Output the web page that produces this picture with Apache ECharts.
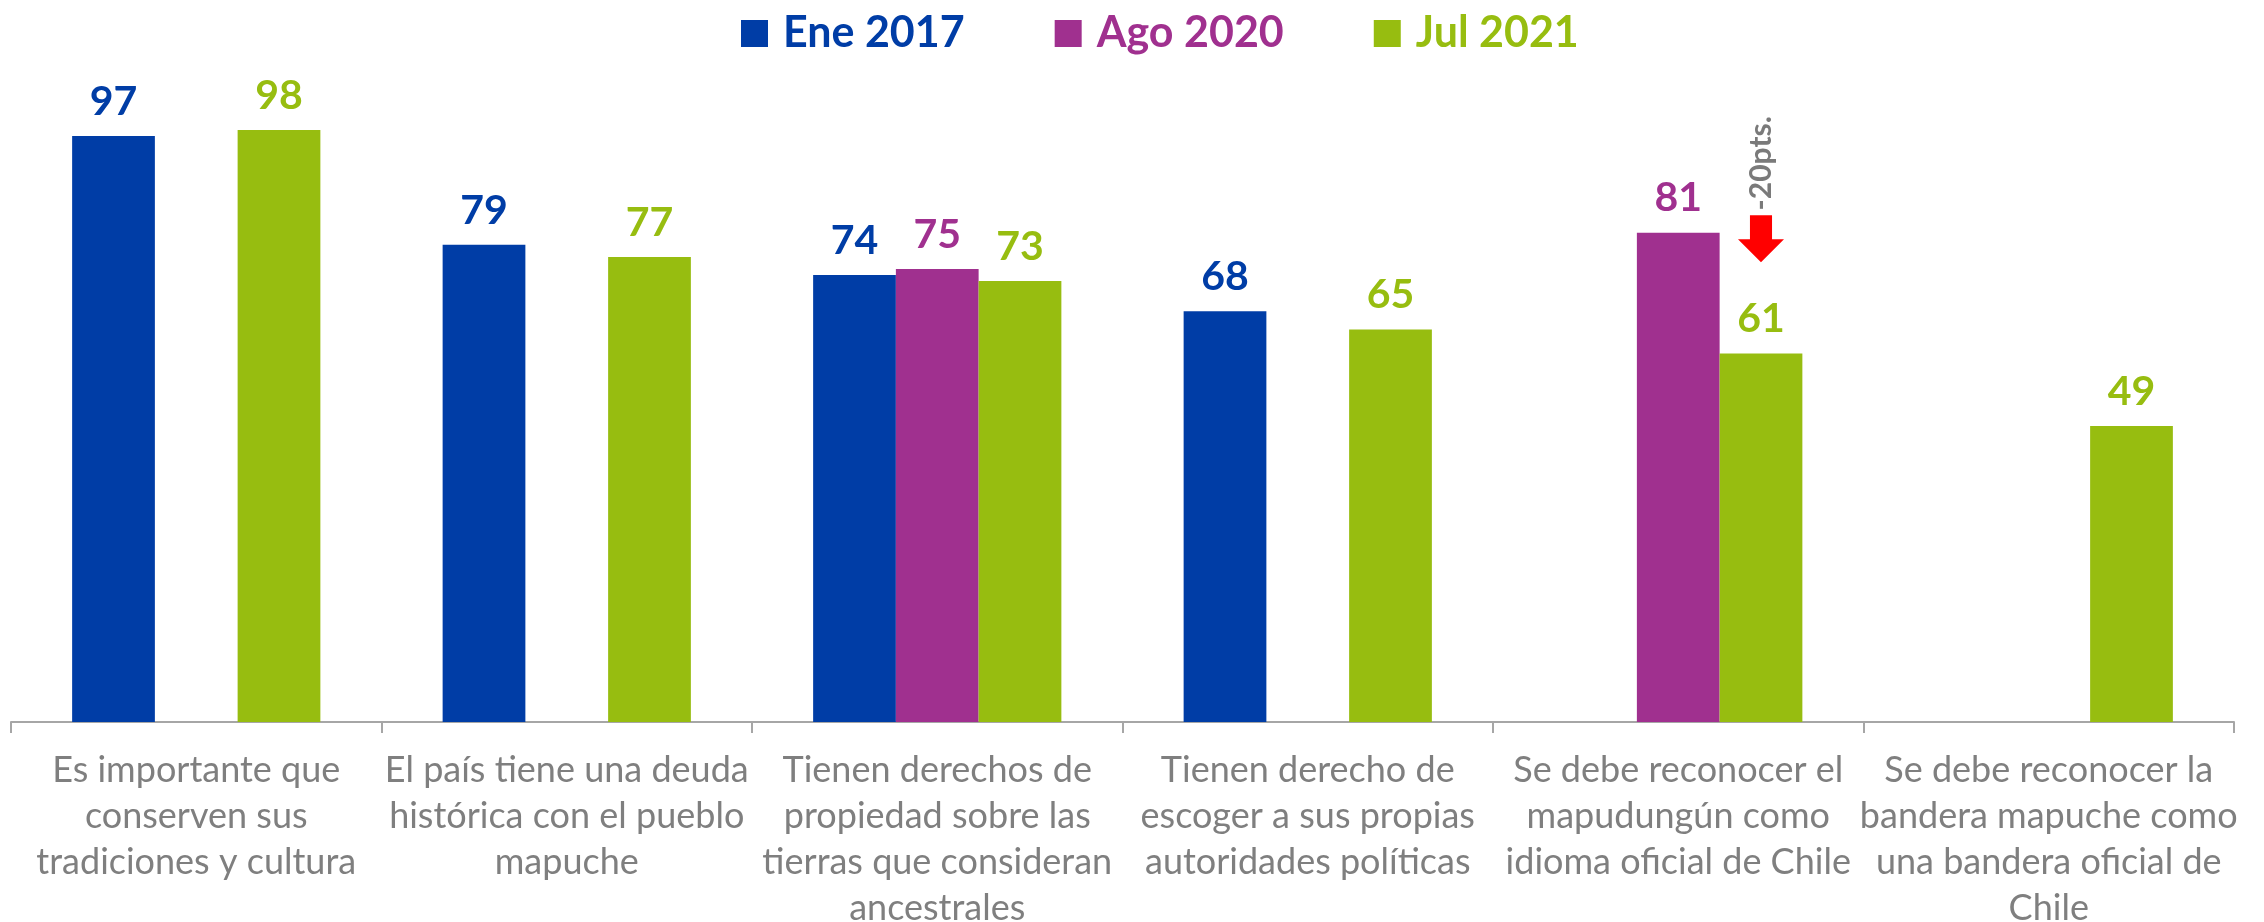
<!DOCTYPE html>
<html>
<head>
<meta charset="utf-8">
<script src="https://cdn.jsdelivr.net/npm/echarts@6/dist/echarts.min.js"></script>
<style>
html,body{margin:0;padding:0;background:#fff;}
#chart{width:2264px;height:922px;}
</style>
</head>
<body>
<div id="chart"></div>
<script>
const categories = [
  "Es importante que\nconserven sus\ntradiciones y cultura",
  "El país tiene una deuda\nhistórica con el pueblo\nmapuche",
  "Tienen derechos de\npropiedad sobre las\ntierras que consideran\nancestrales",
  "Tienen derecho de\nescoger a sus propias\nautoridades políticas",
  "Se debe reconocer el\nmapudungún como\nidioma oficial de Chile",
  "Se debe reconocer la\nbandera mapuche como\nuna bandera oficial de\nChile"
];
const seriesNames = ["Ene 2017", "Ago 2020", "Jul 2021"];
const ene2017 = [97, 79, 74, 68, null, null];
const ago2020 = [null, null, 75, null, 81, null];
const jul2021 = [98, 77, 73, 65, 61, 49];
const colors = ["#003DA6", "#A0308F", "#97BD10"];
// annotation: drop between Ago 2020 and Jul 2021 for category index 4
const annotationCategory = 4;
const annotationText = "-20pts.";
const annotationArrowValue = 80;
const annotationTextValue = 92.5;

const FONT = "Lato, 'Open Sans', sans-serif";
const chart = echarts.init(document.getElementById('chart'));

function barSeries(name, data, color, extra) {
  return Object.assign({
    name: name,
    type: 'bar',
    data: data,
    barGap: '0%',
    barCategoryGap: '33%',
    itemStyle: { color: color },
    label: {
      show: true,
      position: 'top',
      distance: 14,
      color: color,
      fontFamily: FONT,
      fontWeight: 'bold',
      fontSize: 41
    }
  }, extra || {});
}

const option = {
  animation: false,
  backgroundColor: '#ffffff',
  legend: {
    top: 7,
    left: 736,
    padding: 5,
    itemWidth: 27,
    itemHeight: 27,
    itemGap: 90,
    icon: 'rect',
    data: seriesNames.map((n, i) => ({
      name: n,
      textStyle: { color: colors[i] }
    })),
    textStyle: {
      fontFamily: FONT,
      fontWeight: 'bold',
      fontSize: 43,
      padding: [0, 0, 0, 10]
    }
  },
  grid: { left: 11, right: 30, top: 118, bottom: 200, containLabel: false, outerBoundsMode: 'none' },
  xAxis: {
    type: 'category',
    data: categories,
    axisLine: { lineStyle: { color: '#A6A6A6', width: 2 } },
    axisTick: { show: true, length: 11, interval: 0, lineStyle: { color: '#A6A6A6', width: 2 } },
    axisLabel: {
      interval: 0,
      fontFamily: FONT,
      fontSize: 36,
      lineHeight: 46,
      color: '#7F7F7F',
      margin: 25,
      align: 'center',
      hideOverlap: false
    }
  },
  yAxis: {
    type: 'value',
    min: 0,
    max: 100,
    show: false,
    splitLine: { show: false }
  },
  series: [
    barSeries(seriesNames[0], ene2017, colors[0]),
    barSeries(seriesNames[1], ago2020, colors[1]),
    barSeries(seriesNames[2], jul2021, colors[2], {
      markPoint: {
        silent: true,
        data: [
          {
            coord: [annotationCategory, annotationArrowValue],
            symbol: 'path://M26,0 L74,0 L74,51 L100,51 L50,100 L0,51 L26,51 Z',
            symbolSize: [46, 47],
            itemStyle: { color: '#FF0000' },
            label: { show: false }
          },
          {
            coord: [annotationCategory, annotationTextValue],
            symbol: 'circle',
            symbolSize: 1,
            itemStyle: { color: 'rgba(0,0,0,0)' },
            label: {
              show: true,
              formatter: annotationText,
              rotate: 90,
              position: 'inside',
              color: '#7A7A7A',
              fontFamily: FONT,
              fontWeight: 'bold',
              fontSize: 30
            }
          }
        ]
      }
    })
  ]
};
chart.setOption(option);
</script>
</body>
</html>
